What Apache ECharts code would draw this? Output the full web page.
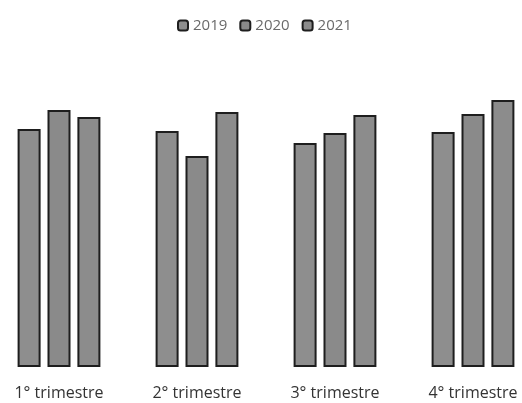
<!DOCTYPE html>
<html>
<head>
<meta charset="utf-8">
<script src="https://cdn.jsdelivr.net/npm/echarts@6/dist/echarts.min.js"></script>
<style>
  html, body { margin: 0; padding: 0; background: #fff; overflow: hidden; width: 522px; height: 403px; }
  #chart { width: 552px; height: 403px; margin-left: -10px; }
</style>
</head>
<body>
<div id="chart"></div>
<script>
// Quarterly values per year
const quarters = ['1° trimestre', '2° trimestre', '3° trimestre', '4° trimestre'];
const years = ['2019', '2020', '2021'];
const values2019 = [238, 236, 224, 235];
const values2020 = [257, 211, 234, 253];
const values2021 = [250, 255, 252, 267];
const seriesValues = [values2019, values2020, values2021];

const barFill = ['#8e8e8e', '#8a8a8a', '#8c8c8c'];

const chart = echarts.init(document.getElementById('chart'));
chart.setOption({
  animation: false,
  backgroundColor: '#ffffff',
  legend: {
    top: 13,
    left: 182,
    itemWidth: 10,
    itemHeight: 10,
    itemGap: 12,
    textStyle: { color: '#6a6a6a', fontSize: 15, fontFamily: 'Open Sans' },
    data: years
  },
  grid: { left: 0, right: 0, top: 67, bottom: 36 },
  xAxis: {
    type: 'category',
    data: quarters,
    axisLine: { show: false },
    axisTick: { show: false },
    axisLabel: { color: '#333', fontSize: 16, margin: 18, fontFamily: 'Open Sans' }
  },
  yAxis: {
    type: 'value',
    min: 0,
    max: 300,
    show: false,
    splitLine: { show: false }
  },
  series: years.map((y, i) => ({
    name: y,
    type: 'bar',
    data: seriesValues[i],
    barWidth: 23,
    barGap: '30%',
    itemStyle: { color: barFill[i], borderColor: '#1e1e1e', borderWidth: 2 }
  }))
});
</script>
</body>
</html>
